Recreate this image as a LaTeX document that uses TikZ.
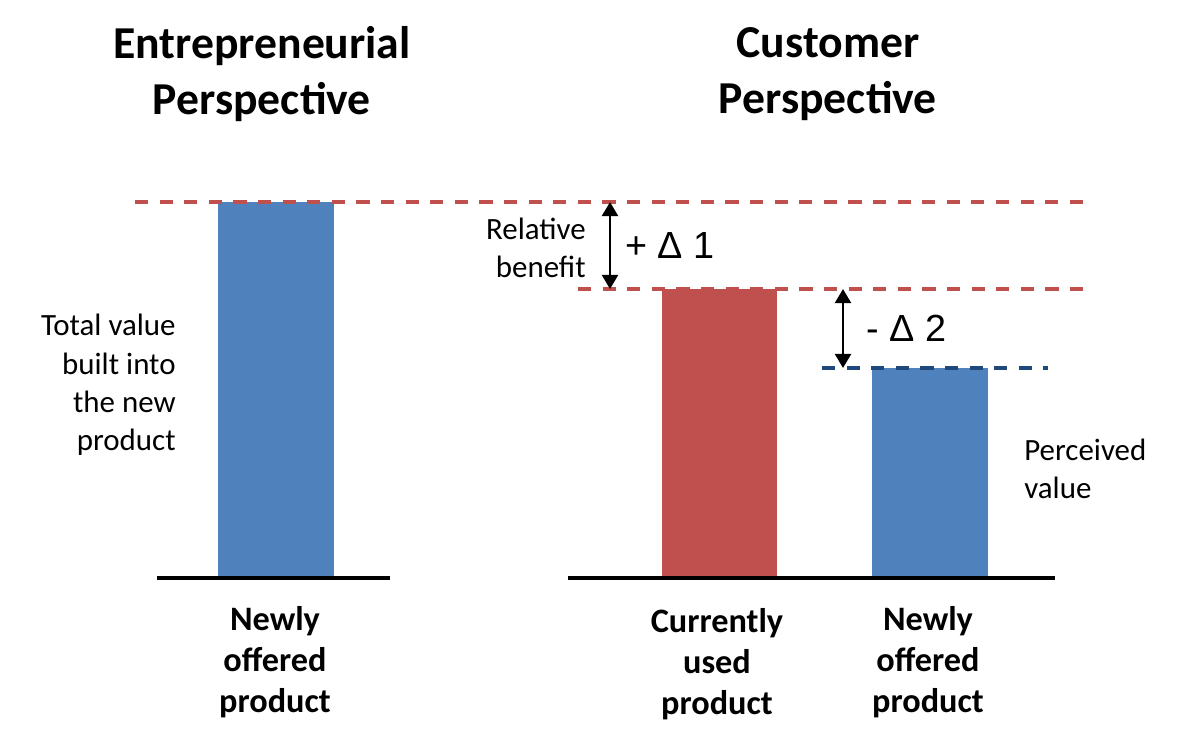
\documentclass[tikz,border=0pt]{standalone}
\usepackage{fontspec}
\setmainfont{Carlito}
\newfontfamily\arialfont{Liberation Sans}
\usetikzlibrary{arrows.meta}
\definecolor{barblue}{HTML}{4F81BD}
\definecolor{barred}{HTML}{C0504D}
\definecolor{lineblue}{HTML}{1F497D}

\begin{document}
\begin{tikzpicture}[x=0.02cm,y=-0.02cm,
    title/.style={inner sep=0pt,align=center,font=\fontsize{26}{32.3}\selectfont\bfseries},
    barlabel/.style={inner sep=0pt,align=center,font=\fontsize{19.5}{23.5}\selectfont\bfseries},
    note/.style={inner sep=0pt,font=\fontsize{17.6}{21.8}\selectfont},
    delta/.style={inner sep=0pt,anchor=west,font=\arialfont\fontsize{21.5}{26}\selectfont},
    level/.style={dash pattern=on 7.5pt off 6.5pt,line width=2pt},
    gap/.style={{Triangle[width=9pt,length=8pt]}-{Triangle[width=9pt,length=8pt]},line width=1.6pt},
    axis/.style={line width=2.3pt}]
    \useasboundingbox (0,0) rectangle (1200,735);

    \node [title](t1)at(262,74){Entrepreneurial\\Perspective};
    \node [title](t2)at(828,74){Customer\\Perspective};

    \fill [barblue](218,202) rectangle (334,578);
    \fill [barred](662,289) rectangle (777,578);
    \fill [barblue](872,368) rectangle (988,578);

    \coordinate (a1)at(157,578);
    \coordinate (a2)at(390,578);
    \coordinate (a3)at(568,578);
    \coordinate (a4)at(1055,578);
    \draw [axis](a1)--(a2);
    \draw [axis](a3)--(a4);

    \coordinate (r1)at(135,202);
    \coordinate (r2)at(1085,202);
    \coordinate (r3)at(578,289);
    \coordinate (r4)at(1085,289);
    \coordinate (b1)at(822,368);
    \coordinate (b2)at(1048,368);
    \draw [level,barred](r1)--(r2);
    \draw [level,barred](r3)--(r4);
    \draw [level,lineblue](b1)--(b2);

    \coordinate (d1)at(610,202);
    \coordinate (d2)at(610,289);
    \coordinate (d3)at(843,289);
    \coordinate (d4)at(843,368);
    \draw [gap](d1)--(d2);
    \draw [gap](d3)--(d4);

    \node [delta](p)at(625,245){+ Δ 1};
    \node [delta](m)at(866,328){- Δ 2};

    \node [note,anchor=east,align=right](tv)at(176,385){Total value\\built into\\the new\\product};
    \node [note,anchor=east,align=right](rb)at(586,248){Relative\\benefit};
    \node [note,anchor=west,align=left](pv)at(1024,469){Perceived\\value};

    \node [barlabel](n1)at(275,662){Newly\\offered\\product};
    \node [barlabel](c1)at(717,664){Currently\\used\\product};
    \node [barlabel](n2)at(928,662){Newly\\offered\\product};
\end{tikzpicture}
\end{document}
